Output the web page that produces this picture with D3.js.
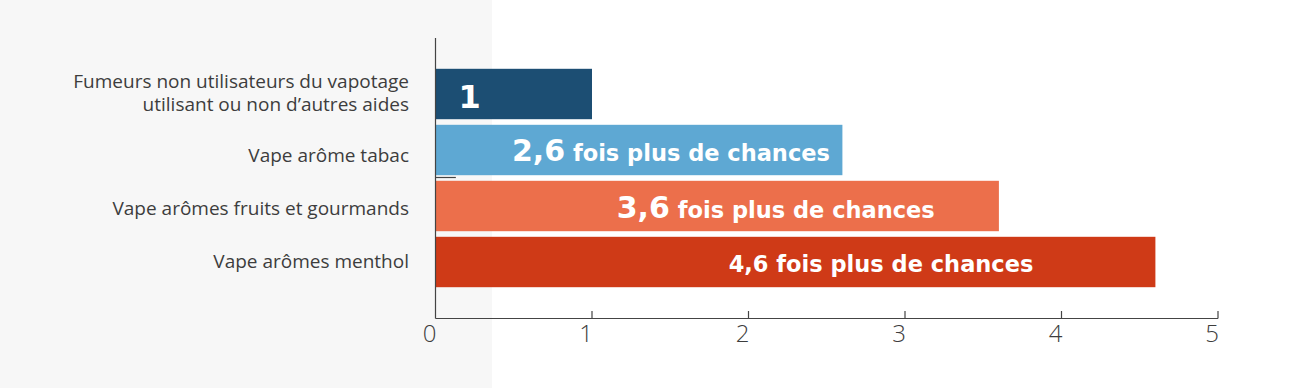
<!DOCTYPE html>
<html>
<head>
<meta charset="utf-8">
<script src="https://cdn.jsdelivr.net/npm/d3@7"></script>
<style>
  body { margin: 0; background: #fff; }
  svg { display: block; }
</style>
</head>
<body>
<div id="chart"></div>
<script>
/* Data */
const CATEGORIES = [
    ['Fumeurs non utilisateurs du vapotage', 'utilisant ou non d’autres aides'],
    ['Vape arôme tabac'],
    ['Vape arômes fruits et gourmands'],
    ['Vape arômes menthol']
];
const VALUES = [1, 2.6, 3.6, 4.6];
const VALUE_LABELS = ['1', '2,6', '3,6', '4,6'];
const SUFFIXES = ['', ' fois plus de chances', ' fois plus de chances', ' fois plus de chances'];
const X_TICKS = [0, 1, 2, 3, 4, 5];

/* Dimensions */
const WIDTH = 1290;
const HEIGHT = 388;
const COLORS = ['#1c4e73', '#5ea8d3', '#ec6f4b', '#cf3a17'];
// where each bar's text ends, in axis units
const LABEL_END = [0.29, 2.52, 3.19, 3.82];
const LABEL_DY = [14, 11, 12, 10];
// category label baseline shift from the bar centre
const CAT_DY = [5, 11.7, 9, 6];

const svg = d3.select('#chart').append('svg')
    .attr('width', WIDTH)
    .attr('height', HEIGHT);

// grey panel behind the category labels
svg.append('rect')
    .attr('x', 0).attr('y', 0)
    .attr('width', 492).attr('height', HEIGHT)
    .attr('fill', '#f7f7f7');

const x = d3.scaleLinear().domain([0, 5]).range([435.5, 1218]);
const y = d3.scaleBand().domain(d3.range(CATEGORIES.length))
    .range([66, 290]).paddingInner(0.1).paddingOuter(0.05);

/* Bars */
svg.append('g').selectAll('rect').data(VALUES).enter().append('rect')
    .attr('x', x(0))
    .attr('y', (d, i) => y(i))
    .attr('width', d => x(d) - x(0))
    .attr('height', y.bandwidth())
    .attr('fill', (d, i) => COLORS[i]);

/* Bar texts */
const barText = svg.append('g').selectAll('text').data(VALUES).enter().append('text')
    .attr('x', (d, i) => x(LABEL_END[i]))
    .attr('y', (d, i) => y(i) + y.bandwidth() / 2 + LABEL_DY[i])
    .attr('text-anchor', 'end')
    .attr('fill', '#fff')
    .style('font-family', '"DejaVu Sans", sans-serif')
    .style('font-weight', 700);

barText.append('tspan')
    .text((d, i) => VALUE_LABELS[i])
    .style('font-size', (d, i) => i === 0 ? '32px' : (i === 3 ? '22.5px' : '30px'));

barText.append('tspan')
    .text((d, i) => SUFFIXES[i])
    .style('font-size', '22.5px')
    .attr('xml:space', 'preserve');

/* Category labels, one text per line */
const catLines = [];
CATEGORIES.forEach((lines, i) => lines.forEach((line, j) => {
    catLines.push({ line, i, offset: j - (lines.length - 1) / 2 });
}));

svg.append('g').selectAll('text').data(catLines).enter().append('text')
    .attr('x', 409)
    .attr('y', d => y(d.i) + y.bandwidth() / 2 + CAT_DY[d.i] + d.offset * 23)
    .attr('text-anchor', 'end')
    .attr('fill', '#3d3d3d')
    .style('font-family', '"Open Sans", sans-serif')
    .style('font-size', '19px')
    .text(d => d.line);

/* Axes */
const axisColor = '#444';
svg.append('line')
    .attr('x1', x(0)).attr('x2', x(0))
    .attr('y1', 38).attr('y2', 318.5)
    .attr('stroke', axisColor).attr('stroke-width', 1.2);

svg.append('line')
    .attr('x1', x(0)).attr('x2', x(0.13))
    .attr('y1', 177.5).attr('y2', 177.5)
    .attr('stroke', axisColor).attr('stroke-width', 1.2);

svg.append('line')
    .attr('x1', x(0)).attr('x2', x(5))
    .attr('y1', 318.5).attr('y2', 318.5)
    .attr('stroke', axisColor).attr('stroke-width', 1.2);

svg.append('g').selectAll('line').data(X_TICKS.slice(1)).enter().append('line')
    .attr('x1', d => x(d)).attr('x2', d => x(d))
    .attr('y1', 311).attr('y2', 318.5)
    .attr('stroke', axisColor).attr('stroke-width', 1.2);

svg.append('g').selectAll('text').data(X_TICKS).enter().append('text')
    .attr('x', d => x(d) + 1)
    .attr('y', 342)
    .attr('text-anchor', 'end')
    .attr('fill', '#3d3d3d')
    .style('font-family', '"Open Sans", sans-serif')
    .style('font-weight', 300)
    .style('font-size', '24px')
    .text(d => d);
</script>
</body>
</html>
